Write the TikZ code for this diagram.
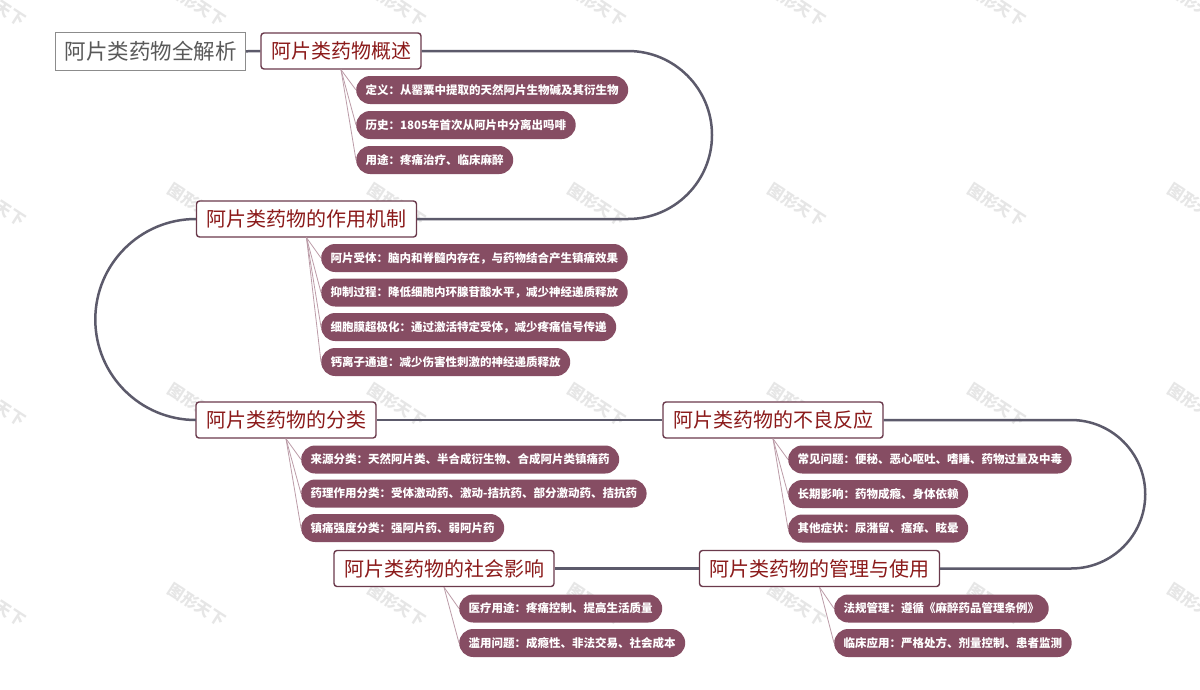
\documentclass[tikz,border=0pt]{standalone}
\usepackage{fontspec}
\setmainfont{Noto Sans CJK SC}
\definecolor{trunkc}{HTML}{5C5A6B}
\definecolor{pillc}{HTML}{864D63}
\definecolor{branchc}{HTML}{BC9CA8}
\definecolor{edgec}{HTML}{6B3A4C}
\definecolor{titlec}{HTML}{8B1A1A}
\definecolor{markc}{HTML}{E6E6E6}
\tikzset{
  rootbox/.style={draw=black!45,line width=1pt,fill=white,text=black!65,font=\fontsize{21.5}{24}\selectfont,inner xsep=9pt,inner ysep=0pt,minimum height=38pt},
  topic/.style={draw=edgec,line width=1.4pt,rounded corners=3pt,fill=white,text=titlec,font=\fontsize{20}{24}\selectfont,inner xsep=10pt,inner ysep=0pt,minimum height=36pt},
  pill/.style={rounded corners=14pt,fill=pillc,text=white,font=\fontsize{11.5}{14}\selectfont\bfseries,inner xsep=9.5pt,inner ysep=0pt,minimum height=28pt,anchor=west},
  trunk/.style={draw=trunkc,line width=2.5pt},
  branch/.style={draw=branchc,line width=0.8pt},
  wmark/.style={text=markc,font=\fontsize{16}{18}\selectfont\bfseries,rotate=-33}
}
\begin{document}
\begin{tikzpicture}[x=1pt,y=-1pt]
  \useasboundingbox[fill=white] (0,0) rectangle (1200,689);
  % watermark
  \foreach \y in {5,205,405,605}
    \foreach \x in {-3,197,397,597,797,997,1197}
      \node[wmark] at (\x,\y) {图形天下};
  % topics
  \node[rootbox](root) at (150.5,51.5){阿片类药物全解析};
  \node[topic](over) at (341,51){阿片类药物概述};
  \node[topic](mech) at (306.5,219){阿片类药物的作用机制};
  \node[topic](kind) at (286,420){阿片类药物的分类};
  \node[topic](side) at (773,420){阿片类药物的不良反应};
  \node[topic](mgmt) at (819.5,568.5){阿片类药物的管理与使用};
  \node[topic](soci) at (444,568.5){阿片类药物的社会影响};
  % leaves
  \node[pill](over1) at (356,90){定义：从罂粟中提取的天然阿片生物碱及其衍生物};
  \node[pill](over2) at (356,125){历史：1805年首次从阿片中分离出吗啡};
  \node[pill](over3) at (356,160){用途：疼痛治疗、临床麻醉};
  \node[pill](mech1) at (321,258){阿片受体：脑内和脊髓内存在，与药物结合产生镇痛效果};
  \node[pill](mech2) at (321,292.5){抑制过程：降低细胞内环腺苷酸水平，减少神经递质释放};
  \node[pill](mech3) at (321,327){细胞膜超极化：通过激活特定受体，减少疼痛信号传递};
  \node[pill](mech4) at (321,362){钙离子通道：减少伤害性刺激的神经递质释放};
  \node[pill](kind1) at (301,459.5){来源分类：天然阿片类、半合成衍生物、合成阿片类镇痛药};
  \node[pill](kind2) at (301,493.5){药理作用分类：受体激动药、激动-拮抗药、部分激动药、拮抗药};
  \node[pill](kind3) at (301,528){镇痛强度分类：强阿片药、弱阿片药};
  \node[pill](side1) at (788,459.5){常见问题：便秘、恶心呕吐、嗜睡、药物过量及中毒};
  \node[pill](side2) at (788,494){长期影响：药物成瘾、身体依赖};
  \node[pill](side3) at (788,528.5){其他症状：尿潴留、瘙痒、眩晕};
  \node[pill](mgmt1) at (834,608.5){法规管理：遵循《麻醉药品管理条例》};
  \node[pill](mgmt2) at (834,643){临床应用：严格处方、剂量控制、患者监测};
  \node[pill](soci1) at (459,608.5){医疗用途：疼痛控制、提高生活质量};
  \node[pill](soci2) at (459,643){滥用问题：成瘾性、非法交易、社会成本};
  % trunk
  \draw[trunk](root) -- (over);
  \draw[trunk](kind) -- (side);
  \draw[trunk](mgmt) -- (soci);
  \draw[trunk](over.east) -- (628,51) arc[start angle=-90,end angle=90,radius=84] -- (mech.east);
  \draw[trunk](mech.west) arc[start angle=-90,end angle=-270,radius=100.5];
  \draw[trunk](side.east) -- (1071,420) arc[start angle=-90,end angle=90,radius=74.25] -- (mgmt.east);
  % branches
  \draw[branch](over.south) -- (over1.west);
  \draw[branch](over.south) -- (over2.west);
  \draw[branch](over.south) -- (over3.west);
  \draw[branch](mech.south) -- (mech1.west);
  \draw[branch](mech.south) -- (mech2.west);
  \draw[branch](mech.south) -- (mech3.west);
  \draw[branch](mech.south) -- (mech4.west);
  \draw[branch](kind.south) -- (kind1.west);
  \draw[branch](kind.south) -- (kind2.west);
  \draw[branch](kind.south) -- (kind3.west);
  \draw[branch](side.south) -- (side1.west);
  \draw[branch](side.south) -- (side2.west);
  \draw[branch](side.south) -- (side3.west);
  \draw[branch](mgmt.south) -- (mgmt1.west);
  \draw[branch](mgmt.south) -- (mgmt2.west);
  \draw[branch](soci.south) -- (soci1.west);
  \draw[branch](soci.south) -- (soci2.west);
\end{tikzpicture}
\end{document}
